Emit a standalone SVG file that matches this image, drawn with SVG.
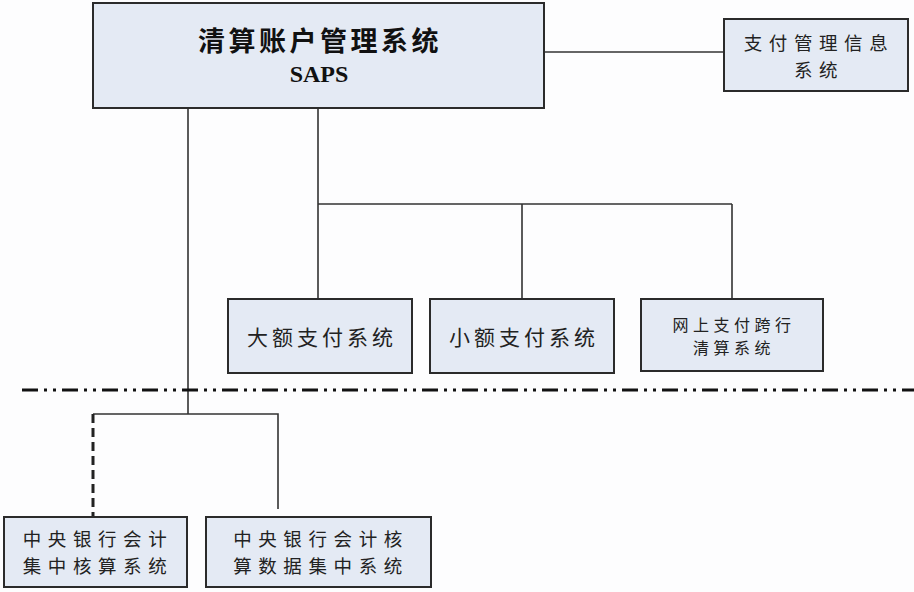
<svg xmlns="http://www.w3.org/2000/svg" width="914" height="592" viewBox="0 0 914 592">
<style>
.box{fill:#E4EAF4;stroke:#2b2b2b;stroke-width:2}
.t{font-family:"Noto Sans CJK SC","Noto Sans",sans-serif;fill:#222;text-anchor:middle;font-size:21px;letter-spacing:4px}
.m{font-size:18.5px;letter-spacing:6.6px}
.s{font-size:16px;letter-spacing:4.5px}
.title{font-family:"Noto Sans CJK SC",sans-serif;font-weight:700;font-size:27px;letter-spacing:3.5px;fill:#111;text-anchor:middle}
.saps{font-family:"Liberation Serif",serif;font-weight:700;font-size:24px;fill:#111;text-anchor:middle}
.ln{fill:none;stroke:#333;stroke-width:1.6}
</style>
<rect width="914" height="592" fill="#fdfdfe"/>
<g id="connectors">
<path class="ln" d="M544 52H724"/>
<path class="ln" d="M318 108V204H732M318 204V299M522 204V299M732 204V299"/>
<path class="ln" d="M188 108V414M93 414H278V509"/>
<path d="M93 414V517" fill="none" stroke="#222" stroke-width="3" stroke-dasharray="9 5"/>
<path d="M22 390H914" fill="none" stroke="#111" stroke-width="3" stroke-dasharray="16 6 3 6 3 6"/>
</g>
<g id="saps">
<rect class="box" x="93" y="3" width="451" height="105"/>
<text class="title" x="320" y="51">清算账户管理系统</text>
<text class="saps" x="319" y="82">SAPS</text>
</g>
<g id="pmis">
<rect class="box" x="724" y="19" width="184" height="72"/>
<text class="t m" x="819" y="49.5">支付管理信息</text>
<text class="t m" x="819" y="76.5">系统</text>
</g>
<g id="hvps">
<rect class="box" x="228" y="299" width="184" height="74"/>
<text class="t" x="322" y="345">大额支付系统</text>
</g>
<g id="beps">
<rect class="box" x="430" y="299" width="184" height="74"/>
<text class="t" x="524" y="345">小额支付系统</text>
</g>
<g id="ibps">
<rect class="box" x="641" y="299" width="182" height="72"/>
<text class="t s" x="734" y="330.5">网上支付跨行</text>
<text class="t s" x="734" y="354">清算系统</text>
</g>
<g id="acs">
<rect class="box" x="4" y="517" width="183" height="70"/>
<text class="t m" x="98" y="546">中央银行会计</text>
<text class="t m" x="98" y="573">集中核算系统</text>
</g>
<g id="adcs">
<rect class="box" x="206" y="517" width="225" height="70"/>
<text class="t m" x="321" y="546">中央银行会计核</text>
<text class="t m" x="321" y="573">算数据集中系统</text>
</g>
</svg>
